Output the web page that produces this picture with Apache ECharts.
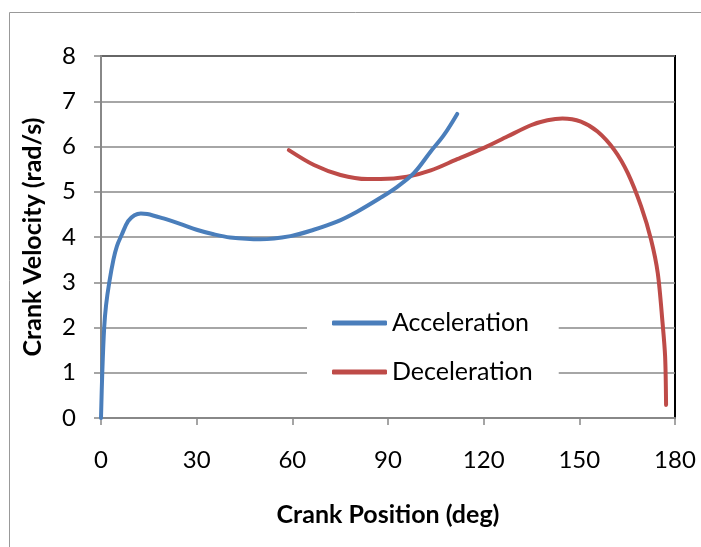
<!DOCTYPE html>
<html><head><meta charset="utf-8">
<script src="https://cdn.jsdelivr.net/npm/echarts@6/dist/echarts.min.js"></script>
<style>html,body{margin:0;padding:0;background:#fff}#c{width:701px;height:547px}</style>
</head><body><div id="c"></div>
<script>
const seriesNames = ['Acceleration', 'Deceleration'];
const accX = [0, 0.4, 1.0, 1.6, 2.6, 3.9, 5.0, 6.5, 8.5, 10.5, 12.5, 14.5, 19.6, 24.8, 30, 35.3, 40.5, 50, 59.4, 66.7, 74, 80.3, 87.7, 92.9, 98.1, 103.4, 107.5, 111.7];
const accY = [0, 1.0, 2.0, 2.5, 3.0, 3.5, 3.8, 4.05, 4.35, 4.48, 4.52, 4.51, 4.41, 4.29, 4.16, 4.06, 3.99, 3.95, 4.02, 4.16, 4.34, 4.56, 4.87, 5.11, 5.41, 5.89, 6.25, 6.72];
const decX = [58.9, 66.8, 75.1, 83.5, 87.7, 96, 103.4, 111.7, 120.1, 127.4, 134.8, 140, 144.7, 150.5, 155.7, 161, 165.2, 169.4, 172.5, 174.6, 176.1, 176.9, 177.2];
const decY = [5.92, 5.59, 5.37, 5.28, 5.28, 5.33, 5.47, 5.72, 5.97, 6.22, 6.47, 6.58, 6.62, 6.55, 6.33, 5.92, 5.41, 4.67, 3.94, 3.2, 2.1, 1.36, 0.29];
const xTicks = [0, 30, 60, 90, 120, 150, 180];
const yTicks = [0, 1, 2, 3, 4, 5, 6, 7, 8];
const colors = ['#4A7EBB', '#BE4B48'];

const FONT = 'Lato, "Open Sans", sans-serif';
const chart = echarts.init(document.getElementById('c'), null, {renderer: 'canvas'});
const pairs = (xs, ys) => xs.map((x, i) => [x, ys[i]]);
chart.setOption({
  animation: false,
  backgroundColor: '#fff',
  graphic: [{
    type: 'rect', shape: {x: 9.5, y: 12.5, width: 760, height: 600},
    style: {fill: 'none', stroke: '#999', lineWidth: 1}, z: -10
  }],
  grid: {left: 101, top: 56, right: 26, bottom: 129, show: true, borderColor: '#000', borderWidth: 2, backgroundColor: 'transparent'},
  legend: {
    data: seriesNames, orient: 'vertical', left: 307, top: 300,
    backgroundColor: '#fff', padding: [9, 26, 9, 25],
    itemWidth: 55, itemHeight: 5, itemGap: 21, icon: 'roundRect',
    textStyle: {fontFamily: FONT, fontSize: 25, color: '#000', lineHeight: 28}
  },
  xAxis: {
    type: 'value', min: 0, max: 180, interval: 30,
    name: 'Crank Position (deg)', nameLocation: 'middle', nameGap: 84,
    nameTextStyle: {fontFamily: FONT, fontSize: 25, fontWeight: 'bold', color: '#000'},
    axisLine: {lineStyle: {color: '#888', width: 2}},
    axisTick: {show: true, length: 7, lineStyle: {color: '#888', width: 1.5}},
    axisLabel: {fontFamily: FONT, fontSize: 24, color: '#000', margin: 30, formatter: v => xTicks.includes(v) ? String(v) : ''},
    splitLine: {show: false}
  },
  yAxis: {
    type: 'value', min: 0, max: 8, interval: 1,
    name: 'Crank Velocity (rad/s)', nameLocation: 'middle', nameGap: 56,
    nameTextStyle: {fontFamily: FONT, fontSize: 25, fontWeight: 'bold', color: '#000'},
    axisLine: {show: true, lineStyle: {color: '#888', width: 2}},
    axisTick: {show: true, length: 7, lineStyle: {color: '#888', width: 1.5}},
    axisLabel: {fontFamily: FONT, fontSize: 24, color: '#000', margin: 25, formatter: v => yTicks.includes(v) ? String(v) : ''},
    splitLine: {show: true, lineStyle: {color: '#888', width: 1.5}}
  },
  series: [
    {name: seriesNames[0], type: 'line', data: pairs(accX, accY), smooth: 0.35, showSymbol: false, symbol: 'none',
     lineStyle: {color: colors[0], width: 4, cap: 'round'}, itemStyle: {color: colors[0]}, z: 3},
    {name: seriesNames[1], type: 'line', data: pairs(decX, decY), smooth: 0.3, showSymbol: false, symbol: 'none',
     lineStyle: {color: colors[1], width: 4, cap: 'round'}, itemStyle: {color: colors[1]}, z: 2}
  ]
});
</script></body></html>
